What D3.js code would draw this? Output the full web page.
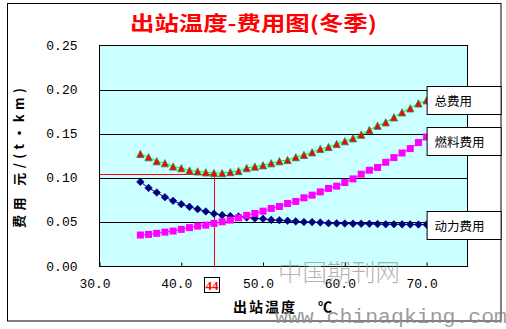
<!DOCTYPE html>
<html>
<head>
<meta charset="utf-8">
<script src="https://cdn.jsdelivr.net/npm/d3@7"></script>
<style>
  html, body { margin: 0; padding: 0; background: #fff; }
  svg { display: block; }
</style>
</head>
<body>
<svg id="chart" width="506" height="329"></svg>
<script>
// Outlet temperature (°C) at each computed point
const temps = [35, 36, 37, 38, 39, 40, 41, 42, 43, 44, 45, 46, 47, 48, 49, 50, 51, 52,
               53, 54, 55, 56, 57, 58, 59, 60, 61, 62, 63, 64, 65, 66, 67, 68, 69, 70];

// Pumping (power) cost, 元/(t·km)
const powerCost = [0.0957, 0.0889, 0.0837, 0.0784, 0.0743, 0.0705, 0.0675, 0.0649, 0.0623,
                   0.0598, 0.0581, 0.0570, 0.0566, 0.0555, 0.0544, 0.0540, 0.0527, 0.0524,
                   0.0517, 0.0510, 0.0503, 0.0502, 0.0498, 0.0490, 0.0488, 0.0486, 0.0485,
                   0.0484, 0.0483, 0.0480, 0.0478, 0.0478, 0.0477, 0.0476, 0.0475, 0.0474];

// Heating (fuel) cost, 元/(t·km)
const fuelCost = [0.0356, 0.0363, 0.0375, 0.0389, 0.0401, 0.0420, 0.0440, 0.0457, 0.0468,
                  0.0488, 0.0506, 0.0525, 0.0551, 0.0578, 0.0600, 0.0626, 0.0657, 0.0679,
                  0.0713, 0.0736, 0.0777, 0.0807, 0.0844, 0.0883, 0.0909, 0.0950, 0.0991,
                  0.1044, 0.1089, 0.1120, 0.1179, 0.1232, 0.1284, 0.1334, 0.1402, 0.1465];

// Total cost, 元/(t·km)
const totalCost = [0.1273, 0.1236, 0.1191, 0.1168, 0.1131, 0.1112, 0.1086, 0.1076, 0.1065,
                   0.1058, 0.1056, 0.1068, 0.1080, 0.1113, 0.1130, 0.1145, 0.1168, 0.1191,
                   0.1205, 0.1236, 0.1262, 0.1292, 0.1330, 0.1352, 0.1386, 0.1417, 0.1450,
                   0.1491, 0.1544, 0.1592, 0.1631, 0.1687, 0.1744, 0.1789, 0.1845, 0.1880];

// Series names shown in the end-of-line labels
const seriesNames = ["总费用", "燃料费用", "动力费用"];

// Axis ticks
const xTicks = [30, 40, 50, 60, 70];
const yTicks = [0, 0.05, 0.10, 0.15, 0.20, 0.25];
const xDomain = [30, 75];
const yDomain = [0, 0.25];

// Optimum: outlet temperature and minimum total cost
const optTemp = 44;
const optCost = 0.1044;

const titleText = "出站温度-费用图(冬季)";
const yTitleText = "费用 元/(t·km)";
const xTitleText = "出站温度";
const xUnitText = "℃";

const svg = d3.select("#chart");
const W = 506, H = 329;

svg.append("rect").attr("width", W).attr("height", H).attr("fill", "#fff");
// chart frame
svg.append("rect").attr("x", 7.5).attr("y", 3.5).attr("width", 493.5).attr("height", 317.5)
  .attr("fill", "none").attr("stroke", "#000").attr("stroke-width", 1);

const plot = { left: 99.5, right: 467.5, top: 45.5, bottom: 266.5 };
const x = d3.scaleLinear().domain(xDomain).range([plot.left, plot.right]);
const y = d3.scaleLinear().domain(yDomain).range([plot.bottom, plot.top]);

// plot background
svg.append("rect")
  .attr("x", plot.left).attr("y", plot.top)
  .attr("width", plot.right - plot.left).attr("height", plot.bottom - plot.top)
  .attr("fill", "#CCFFFF");

// horizontal gridlines
svg.append("g")
  .selectAll("line")
  .data(yTicks.filter(v => v > 0 && v < 0.25))
  .join("line")
  .attr("x1", plot.left).attr("x2", plot.right)
  .attr("y1", d => Math.round(y(d)) + 0.5).attr("y2", d => Math.round(y(d)) + 0.5)
  .attr("stroke", "#000").attr("stroke-width", 1);

// plot border
svg.append("rect")
  .attr("x", plot.left).attr("y", plot.top)
  .attr("width", plot.right - plot.left).attr("height", plot.bottom - plot.top)
  .attr("fill", "none").attr("stroke", "#000").attr("stroke-width", 1);

// x axis
const xAxis = svg.append("g")
  .attr("transform", `translate(0,${plot.bottom})`)
  .call(d3.axisBottom(x).tickValues(xTicks).tickSize(-4).tickSizeOuter(0)
    .tickFormat(d => d.toFixed(1)));
xAxis.select(".domain").remove();
xAxis.selectAll(".tick line").attr("stroke", "#000");
xAxis.selectAll(".tick text")
  .attr("y", 17.5).attr("dy", 0).attr("dx", -5)
  .attr("dominant-baseline", "central")
  .attr("font-family", "'Liberation Mono', monospace")
  .attr("font-size", 13).attr("fill", "#000");

// y axis
const yAxis = svg.append("g")
  .attr("transform", `translate(${plot.left},0)`)
  .call(d3.axisLeft(y).tickValues(yTicks).tickSize(0).tickFormat(d3.format(".2f")));
yAxis.select(".domain").remove();
yAxis.selectAll(".tick text")
  .attr("x", -22).attr("dy", 0)
  .attr("dominant-baseline", "central")
  .attr("font-family", "'Liberation Mono', monospace")
  .attr("font-size", 13).attr("fill", "#000");

// optimum guide lines
svg.append("line")
  .attr("x1", plot.left).attr("x2", x(optTemp))
  .attr("y1", Math.round(y(optCost)) + 0.5).attr("y2", Math.round(y(optCost)) + 0.5)
  .attr("stroke", "#FF0000").attr("stroke-width", 1);
svg.append("line")
  .attr("x1", Math.round(x(optTemp)) + 0.5).attr("x2", Math.round(x(optTemp)) + 0.5)
  .attr("y1", y(optCost)).attr("y2", plot.bottom)
  .attr("stroke", "#FF0000").attr("stroke-width", 1);

const lineGen = vals => d3.line().x((d, i) => x(temps[i])).y(d => y(d))(vals);

// power cost: navy diamonds
svg.append("path").attr("d", lineGen(powerCost))
  .attr("fill", "none").attr("stroke", "#000080").attr("stroke-width", 1);
svg.append("g").selectAll("path")
  .data(powerCost)
  .join("path")
  .attr("d", (d, i) => {
    const cx = x(temps[i]), cy = y(d), r = 3.8;
    return `M${cx},${cy - r}L${cx + r},${cy}L${cx},${cy + r}L${cx - r},${cy}Z`;
  })
  .attr("fill", "#000080").attr("stroke", "#000080").attr("stroke-width", 0.6);

// fuel cost: magenta squares
svg.append("path").attr("d", lineGen(fuelCost))
  .attr("fill", "none").attr("stroke", "#FF00FF").attr("stroke-width", 1);
svg.append("g").selectAll("rect")
  .data(fuelCost)
  .join("rect")
  .attr("x", (d, i) => x(temps[i]) - 3.5)
  .attr("y", d => y(d) - 3.5)
  .attr("width", 7).attr("height", 7)
  .attr("fill", "#FF00FF");

// total cost: red triangles on a green line
svg.append("path").attr("d", lineGen(totalCost))
  .attr("fill", "none").attr("stroke", "#00FF00").attr("stroke-width", 1);
svg.append("g").selectAll("path")
  .data(totalCost)
  .join("path")
  .attr("d", (d, i) => {
    const cx = x(temps[i]), cy = y(d), r = 3.6;
    return `M${cx},${cy - r}L${cx + r},${cy + r}L${cx - r},${cy + r}Z`;
  })
  .attr("fill", "#FF0000").attr("stroke", "#2E8B57").attr("stroke-width", 0.9);

// end-of-series labels
const lastIdx = temps.length - 1;
const labelData = [
  { name: seriesNames[0], v: totalCost[lastIdx], dy: 0 },
  { name: seriesNames[1], v: fuelCost[lastIdx], dy: 4 },
  { name: seriesNames[2], v: powerCost[lastIdx], dy: 0.5 }
];
const lbl = svg.append("g").selectAll("g")
  .data(labelData)
  .join("g")
  .attr("transform", d => `translate(${x(temps[lastIdx]) + 0.5},${Math.round(y(d.v) + d.dy) + 0.5})`);
lbl.append("rect")
  .attr("x", 0).attr("y", -14).attr("width", 74).attr("height", 28)
  .attr("fill", "#fff").attr("stroke", "#000").attr("stroke-width", 1);
lbl.append("text")
  .attr("x", 7.5).attr("y", 0)
  .attr("dominant-baseline", "central")
  .attr("font-family", "'Noto Sans CJK SC', sans-serif")
  .attr("font-size", 12.5).attr("fill", "#000")
  .text(d => d.name);

// optimum temperature marker below the axis
const optX = x(optTemp);
svg.append("rect")
  .attr("x", Math.round(optX) - 9.5).attr("y", 277.5).attr("width", 15).attr("height", 15)
  .attr("fill", "#fff").attr("stroke", "#000").attr("stroke-width", 1);
svg.append("text")
  .attr("x", Math.round(optX) - 2).attr("y", 285.5)
  .attr("text-anchor", "middle").attr("dominant-baseline", "central")
  .attr("font-family", "'Liberation Serif', serif").attr("font-weight", "bold")
  .attr("font-size", 13).attr("fill", "#FF0000")
  .text(optTemp);

// title
svg.append("text")
  .attr("x", 130).attr("y", 22.5)
  .attr("dominant-baseline", "central")
  .attr("textLength", 247).attr("lengthAdjust", "spacingAndGlyphs")
  .attr("font-family", "'Noto Sans CJK SC', sans-serif").attr("font-weight", "bold")
  .attr("font-size", 20).attr("fill", "#FF0000")
  .text(titleText);

// y axis title
svg.append("text")
  .attr("transform", "translate(18,158) rotate(-90)")
  .attr("text-anchor", "middle").attr("dominant-baseline", "central")
  .attr("textLength", 140).attr("lengthAdjust", "spacing")
  .attr("font-family", "'Noto Sans CJK SC', sans-serif").attr("font-weight", "bold")
  .attr("font-size", 13).attr("fill", "#000")
  .text(yTitleText);

// x axis title
svg.append("text")
  .attr("x", 233).attr("y", 306)
  .attr("dominant-baseline", "central")
  .attr("textLength", 62).attr("lengthAdjust", "spacing")
  .attr("font-family", "'Noto Sans CJK SC', sans-serif").attr("font-weight", "bold")
  .attr("font-size", 14).attr("fill", "#000")
  .text(xTitleText);
svg.append("text")
  .attr("x", 318).attr("y", 306)
  .attr("dominant-baseline", "central")
  .attr("font-family", "'Noto Sans CJK SC', sans-serif").attr("font-weight", "bold")
  .attr("font-size", 14).attr("fill", "#000")
  .text(xUnitText);

// publisher marks
svg.append("text")
  .attr("x", 278).attr("y", 270)
  .attr("dominant-baseline", "central")
  .attr("textLength", 122).attr("lengthAdjust", "spacingAndGlyphs")
  .attr("font-family", "'Noto Sans CJK SC', sans-serif").attr("font-weight", 300)
  .attr("font-size", 24).attr("fill", "#9a9a9a").attr("fill-opacity", 0.75)
  .text("中国期刊网");
svg.append("text")
  .attr("x", 275).attr("y", 323)
  .attr("textLength", 232).attr("lengthAdjust", "spacingAndGlyphs")
  .attr("font-family", "'Liberation Mono', monospace")
  .attr("font-size", 20).attr("fill", "#8a8a8a").attr("fill-opacity", 0.85)
  .text("www.chinaqking.com");
</script>
</body>
</html>
